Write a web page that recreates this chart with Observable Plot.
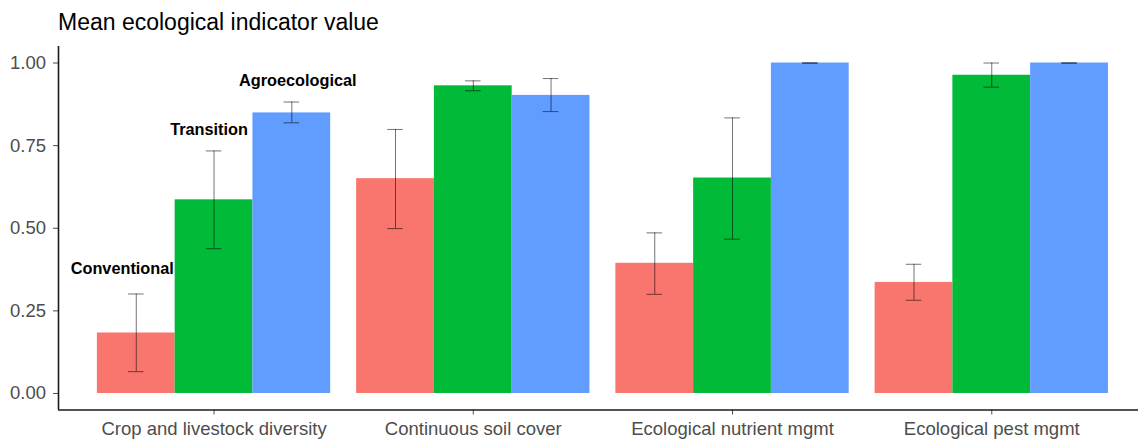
<!DOCTYPE html>
<html><head><meta charset="utf-8">
<script src="https://cdn.jsdelivr.net/npm/d3@7"></script>
<script src="https://cdn.jsdelivr.net/npm/@observablehq/plot@0.6"></script>
<style>
body{margin:0;background:#fff;font-family:"Liberation Sans",Arial,Helvetica,sans-serif;}
#title{height:36px;box-sizing:border-box;padding:9px 0 0 58px;line-height:26px;font-size:23px;color:#000;white-space:nowrap;}
#chart svg{display:block;}
</style></head><body>
<div id="title">Mean ecological indicator value</div>
<div id="chart"></div>
<script>
const categories = ["Crop and livestock diversity", "Continuous soil cover", "Ecological nutrient mgmt", "Ecological pest mgmt"];
const groups = ["Conventional", "Transition", "Agroecological"];
const colors = ["#F8766D", "#00BA38", "#619CFF"];

const conventionalMean  = [0.183, 0.650, 0.394, 0.336];
const conventionalLower = [0.066, 0.499, 0.300, 0.282];
const conventionalUpper = [0.301, 0.799, 0.486, 0.391];

const transitionMean  = [0.586, 0.931, 0.652, 0.963];
const transitionLower = [0.438, 0.916, 0.467, 0.927];
const transitionUpper = [0.734, 0.946, 0.834, 1.000];

const agroecologicalMean  = [0.849, 0.902, 1.000, 1.000];
const agroecologicalLower = [0.819, 0.853, 1.000, 1.000];
const agroecologicalUpper = [0.882, 0.953, 1.000, 1.000];

const yTicks = [0, 0.25, 0.5, 0.75, 1];

const series = [
  [conventionalMean, conventionalLower, conventionalUpper],
  [transitionMean, transitionLower, transitionUpper],
  [agroecologicalMean, agroecologicalLower, agroecologicalUpper]
];

// dodge: categories at 1..n, 3 bars per category, total width 0.9
const dodgeW = 0.3;
const rows = [];
series.forEach(([m, lo, hi], g) => {
  categories.forEach((c, i) => {
    const cx = (i + 1) + (g - 1) * dodgeW;
    rows.push({category: c, group: groups[g], g, i, cx, x1: cx - dodgeW / 2, x2: cx + dodgeW / 2,
               mean: m[i], lower: lo[i], upper: hi[i]});
  });
});

const labelRows = rows.filter(d => d.i === 0);
const labelOffsets = {Conventional: [-14, -25], Transition: [-5, -21], Agroecological: [6, -21]};

const capHalf = 0.03;

const chart = Plot.plot({
  width: 1138,
  height: 404,
  marginLeft: 58,
  marginRight: 0,
  marginTop: 10,
  marginBottom: 30.5,
  style: {fontFamily: '"Liberation Sans", Arial, Helvetica, sans-serif', background: "#fff"},
  x: {domain: [0.4, 4.566], axis: null},
  y: {domain: [-0.05, 1.05], axis: null},
  color: {domain: groups, range: colors},
  marks: [
    Plot.rectY(rows, {x1: "x1", x2: "x2", y1: 0, y2: "mean", fill: "group"}),
    Plot.ruleX(rows, {x: "cx", y1: "lower", y2: "upper", stroke: "#000", strokeOpacity: 0.55, strokeWidth: 1}),
    Plot.ruleY(rows, {y: "upper", x1: d => d.cx - capHalf, x2: d => d.cx + capHalf, stroke: "#000", strokeOpacity: 0.55, strokeWidth: 1}),
    Plot.ruleY(rows, {y: "lower", x1: d => d.cx - capHalf, x2: d => d.cx + capHalf, stroke: "#000", strokeOpacity: 0.55, strokeWidth: 1}),
    ...groups.map(gname => Plot.text(labelRows.filter(d => d.group === gname), {
      x: "cx", y: "upper", text: "group",
      dx: labelOffsets[gname][0], dy: labelOffsets[gname][1],
      fontSize: 16.3, fontWeight: "bold", fill: "#000"
    })),
    Plot.axisY({ticks: yTicks, tickFormat: d3.format(".2f"), tickSize: 5, tickPadding: 7.5,
                fontSize: 18.5, color: "#4d4d4d", label: null}),
    Plot.axisX({ticks: categories.map((c, i) => i + 1), tickFormat: v => categories[v - 1],
                tickSize: 5, tickPadding: 7, fontSize: 18.5, color: "#4d4d4d", label: null}),
    Plot.ruleX([0.4], {y1: -0.05, y2: 1.05, stroke: "#1a1a1a", strokeWidth: 1.6}),
    Plot.ruleY([-0.05], {stroke: "#1a1a1a", strokeWidth: 1.6})
  ]
});
document.getElementById("chart").appendChild(chart);
</script>
</body></html>
